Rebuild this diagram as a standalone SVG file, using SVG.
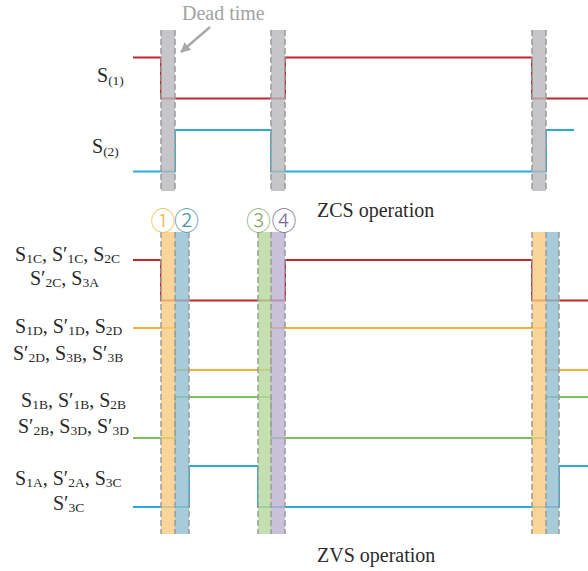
<svg xmlns="http://www.w3.org/2000/svg" width="588" height="571" viewBox="0 0 588 571">
<defs>
<style>
.lbl{font-family:"Liberation Serif","Times New Roman",serif;font-size:20px;fill:#2a2a2a}
.sub{font-size:13.5px}
.sig{fill:none;stroke-width:2;stroke-linejoin:miter}
.red{stroke:#c1272d}
.blue{stroke:#29abe2}
.orange{stroke:#f7b033}
.green{stroke:#7ac25a}
.band{fill-opacity:0.8}
.gray{fill:#b8b8ba}
.bo{fill:#f8cb81}
.bb{fill:#91becf}
.bg{fill:#b6d89c}
.bp{fill:#bbb0cf}
.edge{stroke:#9a9a9a;stroke-width:1.5;stroke-dasharray:6,3;fill:none}
.circ{font-family:"Noto Sans CJK SC","DejaVu Sans",sans-serif;font-size:25px;font-weight:300;text-anchor:middle}
</style>
<marker id="arr" markerWidth="10" markerHeight="10" refX="9" refY="5" orient="auto" markerUnits="userSpaceOnUse" viewBox="0 0 10 10">
<path d="M0,0 L10,5 L0,10 z" fill="#a9a9a9"/>
</marker>
</defs>
<rect width="588" height="571" fill="#ffffff"/>

<g id="connectors">
<polyline class="sig red" points="133,57.5 161,57.5 161,98.5 285,98.5 285,57.5 532,57.5 532,98.5 588,98.5"/>
<polyline class="sig blue" points="133,171.5 175,171.5 175,130 271,130 271,171.5 546,171.5 546,130 574,130"/>
<polyline class="sig red" points="133,260 161,260 161,300.5 285,300.5 285,260 532,260 532,300.5 588,300.5"/>
<polyline class="sig orange" points="133,328 175,328 175,370 271,370 271,328 546,328 546,370 588,370"/>
<polyline class="sig green" points="133,438 175,438 175,397 271,397 271,438 546,438 546,397 588,397"/>
<polyline class="sig blue" points="133,507 189,507 189,466 258,466 258,507 559,507 559,466 588,466"/>
<line x1="210" y1="27" x2="181" y2="52" stroke="#a9a9a9" stroke-width="2.5" marker-end="url(#arr)"/>
</g>

<g id="zcs-bands">
<rect class="band gray" x="161" y="30" width="14" height="161"/>
<rect class="band gray" x="271" y="30" width="14" height="161"/>
<rect class="band gray" x="532" y="30" width="14" height="161"/>
<path class="edge" d="M161,30V191 M175,30V191 M271,30V191 M285,30V191 M532,30V191 M546,30V191"/>
</g>

<g id="zvs-bands">
<rect class="band bo" x="161" y="232" width="14" height="302"/>
<rect class="band bb" x="175" y="232" width="14" height="302"/>
<rect class="band bg" x="258" y="232" width="13" height="302"/>
<rect class="band bp" x="271" y="232" width="14" height="302"/>
<rect class="band bo" x="532" y="232" width="14" height="302"/>
<rect class="band bb" x="546" y="232" width="13" height="302"/>
<path class="edge" d="M161,232V534 M175,232V534 M189,232V534 M258,232V534 M271,232V534 M285,232V534 M532,232V534 M546,232V534 M559,232V534"/>
</g>

<g id="dead-time-label">
<text class="lbl" x="182" y="20" style="fill:#a3a3a3">Dead time</text>
</g>

<g id="S1-label"><text class="lbl" x="97" y="82">S<tspan class="sub" dy="2.5">(1)</tspan></text></g>
<g id="S2-label"><text class="lbl" x="92" y="153">S<tspan class="sub" dy="2.5">(2)</tspan></text></g>
<g id="zcs-title"><text class="lbl" x="317" y="217">ZCS operation</text></g>

<g id="interval-1"><text class="circ" x="163" y="229.5" fill="#f5b84a">①</text></g>
<g id="interval-2"><text class="circ" x="186.5" y="229.5" fill="#4a93a6">②</text></g>
<g id="interval-3"><text class="circ" x="258.5" y="229.5" fill="#8aab72">③</text></g>
<g id="interval-4"><text class="circ" x="284" y="229.5" fill="#7a6c96">④</text></g>

<g id="label-C">
<text class="lbl" x="15" y="260.5">S<tspan class="sub" dy="2">1C</tspan><tspan dy="-2">, S′</tspan><tspan class="sub" dy="2">1C</tspan><tspan dy="-2">, S</tspan><tspan class="sub" dy="2">2C</tspan></text>
<text class="lbl" x="30" y="285">S′<tspan class="sub" dy="2">2C</tspan><tspan dy="-2">, S</tspan><tspan class="sub" dy="2">3A</tspan></text>
</g>
<g id="label-D">
<text class="lbl" x="15" y="332.7">S<tspan class="sub" dy="2">1D</tspan><tspan dy="-2">, S′</tspan><tspan class="sub" dy="2">1D</tspan><tspan dy="-2">, S</tspan><tspan class="sub" dy="2">2D</tspan></text>
<text class="lbl" x="13" y="360">S′<tspan class="sub" dy="2">2D</tspan><tspan dy="-2">, S</tspan><tspan class="sub" dy="2">3B</tspan><tspan dy="-2">, S′</tspan><tspan class="sub" dy="2">3B</tspan></text>
</g>
<g id="label-B">
<text class="lbl" x="21" y="406.7">S<tspan class="sub" dy="2">1B</tspan><tspan dy="-2">, S′</tspan><tspan class="sub" dy="2">1B</tspan><tspan dy="-2">, S</tspan><tspan class="sub" dy="2">2B</tspan></text>
<text class="lbl" x="18" y="433.3">S′<tspan class="sub" dy="2">2B</tspan><tspan dy="-2">, S</tspan><tspan class="sub" dy="2">3D</tspan><tspan dy="-2">, S′</tspan><tspan class="sub" dy="2">3D</tspan></text>
</g>
<g id="label-A">
<text class="lbl" x="15" y="484.5">S<tspan class="sub" dy="2">1A</tspan><tspan dy="-2">, S′</tspan><tspan class="sub" dy="2">2A</tspan><tspan dy="-2">, S</tspan><tspan class="sub" dy="2">3C</tspan></text>
<text class="lbl" x="53" y="510">S′<tspan class="sub" dy="2">3C</tspan></text>
</g>

<g id="zvs-title"><text class="lbl" x="317" y="562">ZVS operation</text></g>
</svg>
